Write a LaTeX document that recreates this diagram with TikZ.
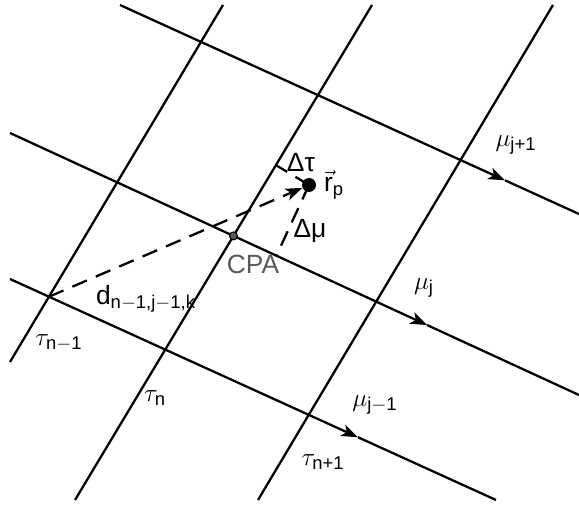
\documentclass[tikz,border=0pt]{standalone}
\usepackage{fontspec}
\usepackage{amsmath}
\setmainfont{Liberation Sans}
\usetikzlibrary{arrows.meta,calc}

\begin{document}
\begin{tikzpicture}[
  x=0.02cm,y=-0.02cm,
  line/.style={draw=black,line width=1.3pt},
  dline/.style={draw=black,line width=1.3pt,dash pattern=on 9pt off 5.5pt},
  tip/.style={-{Stealth[length=9.5pt,width=7pt,inset=2.5pt]}},
  label/.style={font=\fontsize{15}{18}\selectfont,text=black,inner sep=0pt},
]
\useasboundingbox (0,0) rectangle (579,506);
% grid line ends
\coordinate (mup1) at (120,5);  \coordinate (mup2) at (579,214);
\coordinate (muj1) at (10,133); \coordinate (muj2) at (579,395);
\coordinate (mum1) at (10,279); \coordinate (mum2) at (496,500);
\coordinate (tam1) at (10,362); \coordinate (tam2) at (223,5);
\coordinate (tan1) at (75,500); \coordinate (tan2) at (372,5);
\coordinate (tap1) at (258,500); \coordinate (tap2) at (553,5);
% tau lines
\foreach \t in {tam,tan,tap}{
  \draw[line] (\t1) -- (\t2);
}
% mu lines, arrow part way along
\foreach \m/\f in {mup/0.839,muj/0.733,mum/0.716}{
  \draw[line,tip] (\m1) -- ($(\m1)!\f!(\m2)$);
  \draw[line] ($(\m1)!\f!(\m2)$) -- (\m2);
}
\coordinate (cpa) at (intersection of tan1--tan2 and muj1--muj2);
\coordinate (crn) at (intersection of tam1--tam2 and mum1--mum2);
\coordinate (rpos) at (309,185);
\coordinate (ftau) at ($(tan1)!(rpos)!(tan2)$);
\coordinate (fmu) at ($(muj1)!(rpos)!(muj2)$);
\draw[dline] (rpos) -- (ftau);
\draw[dline] (rpos) -- (fmu);
\node[circle,fill=black,inner sep=0pt,minimum size=0.28cm] (rp) at (rpos) {};
\draw[dline,tip] (crn) -- (rp);
\node[circle,fill=black!65,draw=black,line width=0.6pt,inner sep=0pt,minimum size=0.16cm] (cpadot) at (cpa) {};
% labels
\node[label] (lmup) at (516,145) {$\mu_{\text{j+1}}$};
\node[label] (lmuj) at (424,288) {$\mu_{\text{j}}$};
\node[label] (lmum) at (375,405) {$\mu_{\text{j$-$1}}$};
\node[label] (ltam) at (59,343) {$\tau_{\text{n$-$1}}$};
\node[label] (ltan) at (155,398) {$\tau_{\text{n}}$};
\node[label] (ltap) at (323,462) {$\tau_{\text{n+1}}$};
\node[label] (ld) at (146,299) {d$_{\text{n$-$1,j$-$1,k}}$};
\node[label] (ldtau) at (301,163) {Δτ};
\node[label] (ldmu) at (310,231) {Δμ};
\node[label] (lrp) at (334,185) {$\vec{\text{r}}_{\text{p}}$};
\node[label,text=black!65] (lcpa) at (253,264) {CPA};
\end{tikzpicture}
\end{document}
